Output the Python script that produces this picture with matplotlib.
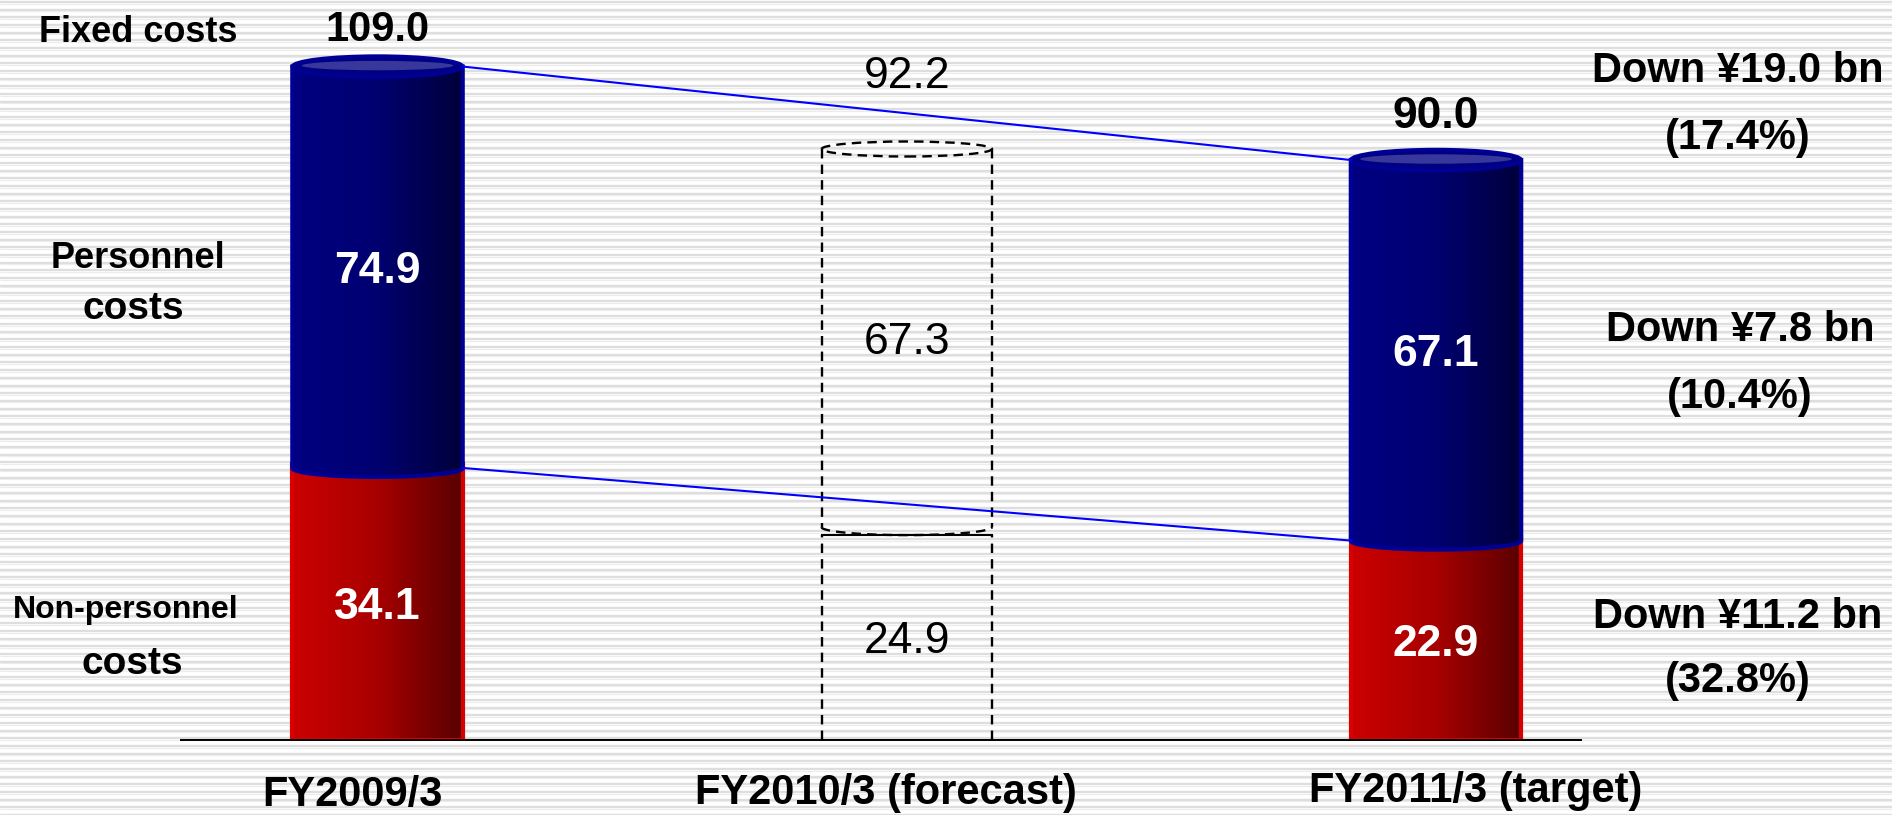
import numpy as np
import matplotlib
matplotlib.use('Agg')
import matplotlib.pyplot as plt
from matplotlib.path import Path
from matplotlib.patches import PathPatch, Ellipse
from matplotlib.colors import LinearSegmentedColormap

# ---- data ----
categories = ['FY2009/3', 'FY2010/3 (forecast)', 'FY2011/3 (target)']
non_personnel = [34.1, 24.9, 22.9]
personnel = [74.9, 67.3, 67.1]
totals = [109.0, 92.2, 90.0]
is_forecast = [False, True, False]
side_labels = [('Fixed costs',), ('Personnel', 'costs'), ('Non-personnel', 'costs')]
change_labels = [('Down ¥19.0 bn', '(17.4%)'),
                 ('Down ¥7.8 bn', '(10.4%)'),
                 ('Down ¥11.2 bn', '(32.8%)')]

W, H = 1892, 815
plt.rcParams['font.family'] = ['Liberation Sans', 'DejaVu Sans']

fig = plt.figure(figsize=(W / 100, H / 100), dpi=100)
fig.patch.set_facecolor('white')

# striped background
bg = fig.add_axes([0, 0, 1, 1], zorder=0)
bg.set_xlim(0, W)
bg.set_ylim(H, 0)
bg.axis('off')
ys = np.arange(2.0, H + 8, 7.67)
bg.hlines(ys, 0, W, color='#dedede', lw=1.7)
bg.hlines(ys + 1.6, 0, W, color='#ececec', lw=0.8)

# main axes, bottom edge sits on the baseline
base_px = 740
ax = fig.add_axes([0, (H - base_px) / H, 1, base_px / H], zorder=1)
ax.patch.set_alpha(0)
ax.axis('off')

p = 0.78


def fwd(v):
    v = np.asarray(v, dtype=float)
    return np.sign(v) * np.abs(v) ** p


def inv(v):
    v = np.asarray(v, dtype=float)
    return np.sign(v) * np.abs(v) ** (1 / p)


ax.set_yscale('function', functions=(fwd, inv))
XLIM = (-0.7133, 2.8616)
YLIM = (0, 123)
ax.set_xlim(*XLIM)
ax.set_ylim(*YLIM)

x = np.arange(len(categories))
bw = 0.322
red_bars = ax.bar(x, non_personnel, bw, color='none', zorder=2)
blue_bars = ax.bar(x, personnel, bw, bottom=non_personnel, color='none', zorder=2)


def to_ax(xv, yv):
    return ax.transAxes.inverted().transform(ax.transData.transform((xv, yv)))


def px_h(n):
    return n / base_px


def half_ellipse(cx, cy, w, h, n=80):
    t = np.linspace(np.pi, 2 * np.pi, n)
    return cx + w / 2 * np.cos(t), cy + h / 2 * np.sin(t)


grad = np.linspace(0, 1, 256).reshape(1, -1)
blue_cmap = LinearSegmentedColormap.from_list('b', ['#000082', '#000070', '#00003a'])
red_cmap = LinearSegmentedColormap.from_list('r', ['#cc0000', '#a80000', '#580000'])

cap_h = px_h(21)
bot_h = px_h(18)
dash = (0, (4, 2.6))
txt_shift = px_h(4)

for i in range(len(categories)):
    rb, bb = red_bars[i], blue_bars[i]
    x0 = rb.get_x()
    x1 = x0 + rb.get_width()
    (ax0, ay0) = to_ax(x0, 0)
    (ax1, ayb) = to_ax(x1, rb.get_y() + rb.get_height())
    (_, ayt) = to_ax(x1, bb.get_y() + bb.get_height())
    cx = (ax0 + ax1) / 2
    w = ax1 - ax0

    if is_forecast[i]:
        kw = dict(color='black', lw=1.7, ls=dash, transform=ax.transAxes, zorder=4)
        ax.add_patch(Ellipse((cx, ayt), w, px_h(15), fill=False, ec='black',
                             lw=1.7, ls=dash, transform=ax.transAxes, zorder=4))
        ax.plot([ax0, ax0], [ayt, ayb], **kw)
        ax.plot([ax1, ax1], [ayt, ayb], **kw)
        hx, hy = half_ellipse(cx, ayb, w, px_h(16))
        ax.plot(hx, hy, **kw)
        ytop_low = ayb - px_h(8)
        ax.plot([ax0, ax1], [ytop_low, ytop_low], color='black', lw=1.5,
                transform=ax.transAxes, zorder=4)
        ax.plot([ax0, ax0], [0, ytop_low], **kw)
        ax.plot([ax1, ax1], [0, ytop_low], **kw)
        txt = dict(color='black', fontsize=32, ha='center', va='center',
                   transform=ax.transAxes, zorder=8)
        ax.text(cx, (ayt + ayb) / 2 - txt_shift, f'{personnel[i]:.1f}', **txt)
        ax.text(cx, ytop_low / 2 - txt_shift, f'{non_personnel[i]:.1f}', **txt)
        continue

    # red body
    red_path = Path([(ax0, 0), (ax0, ayb + px_h(4)), (ax1, ayb + px_h(4)), (ax1, 0), (ax0, 0)],
                    [Path.MOVETO, Path.LINETO, Path.LINETO, Path.LINETO, Path.CLOSEPOLY])
    red_patch = PathPatch(red_path, fc='none', ec='#d80000', lw=3,
                          transform=ax.transAxes, zorder=4)
    ax.add_patch(red_patch)
    im = ax.imshow(grad, cmap=red_cmap, extent=(ax0, ax1, 0, ayb + px_h(5)),
                   transform=ax.transAxes, aspect='auto', zorder=3,
                   interpolation='bilinear')
    im.set_clip_path(red_patch)

    # blue body with curved bottom
    hx, hy = half_ellipse(cx, ayb, w, bot_h)
    verts = [(ax0, ayt), (ax0, ayb)] + list(zip(hx, hy)) + [(ax1, ayt), (ax0, ayt)]
    codes = [Path.MOVETO] + [Path.LINETO] * (len(verts) - 2) + [Path.CLOSEPOLY]
    blue_patch = PathPatch(Path(verts, codes), fc='none', ec='#000096', lw=3,
                           transform=ax.transAxes, zorder=5)
    ax.add_patch(blue_patch)
    im = ax.imshow(grad, cmap=blue_cmap, extent=(ax0, ax1, ayb - bot_h, ayt),
                   transform=ax.transAxes, aspect='auto', zorder=4.5,
                   interpolation='bilinear')
    im.set_clip_path(blue_patch)

    # top cap
    ax.add_patch(Ellipse((cx, ayt), w, cap_h, fc='#000082', ec='#000096', lw=2.5,
                         transform=ax.transAxes, zorder=6))
    ax.add_patch(Ellipse((cx, ayt + px_h(1)), w * 0.89, cap_h * 0.45, fc='#37379c',
                         ec='none', transform=ax.transAxes, zorder=6.5))

    txt = dict(color='white', fontsize=32, fontweight='bold', ha='center',
               va='center', transform=ax.transAxes, zorder=8)
    ax.text(cx, (ayt + ayb) / 2 - txt_shift, f'{personnel[i]:.1f}', **txt)
    ax.text(cx, ayb / 2 - txt_shift, f'{non_personnel[i]:.1f}', **txt)

# totals above bars
total_offsets = [26, 52, 31]
total_sizes = [30, 32, 32]
for i, t in enumerate(totals):
    ax.annotate(f'{t:.1f}', xy=(x[i], t), xytext=(0, total_offsets[i]),
                textcoords='offset points', ha='center', va='center',
                fontsize=total_sizes[i],
                fontweight='normal' if is_forecast[i] else 'bold', zorder=8)

# connector lines between the solid bars
b0, b2 = blue_bars[0], blue_bars[2]
ax.plot([b0.get_x() + b0.get_width(), b2.get_x()], [totals[0], totals[2]],
        color='#0000ff', lw=1.5, zorder=7)
ax.plot([b0.get_x() + b0.get_width(), b2.get_x()], [non_personnel[0], non_personnel[2]],
        color='#0000ff', lw=1.5, zorder=7)

# baseline
ax.plot([(181 - 377.5) / 529.25, (1581 - 377.5) / 529.25], [0, 0],
        color='black', lw=1.4, zorder=7, clip_on=False)

ax.set_xlim(*XLIM)
ax.set_ylim(*YLIM)


def ft(px, py, s, **kw):
    fig.text(px / W, 1 - (py + 4) / H, s, ha='center', va='center', fontweight='bold',
             color='black', zorder=10, **kw)


# category labels
cat_pos = [(352, 791), (886, 789), (1476, 787)]
for (px, py), c in zip(cat_pos, categories):
    ft(px, py, c, fontsize=30)

# left side labels
side_pos = [[(138, 29)], [(138, 255), (133, 305)], [(126, 606), (132, 660)]]
side_size = [[26], [26, 28], [23, 28]]
for lines, pos, sizes in zip(side_labels, side_pos, side_size):
    for s, (px, py), fs in zip(lines, pos, sizes):
        ft(px, py, s, fontsize=fs)

# right side change notes
change_pos = [[(1738, 67), (1738, 134)], [(1740, 326), (1740, 393)], [(1738, 613), (1738, 677)]]
for lines, pos in zip(change_labels, change_pos):
    for s, (px, py) in zip(lines, pos):
        ft(px, py, s, fontsize=30)

fig.savefig('out.png', dpi=100)
